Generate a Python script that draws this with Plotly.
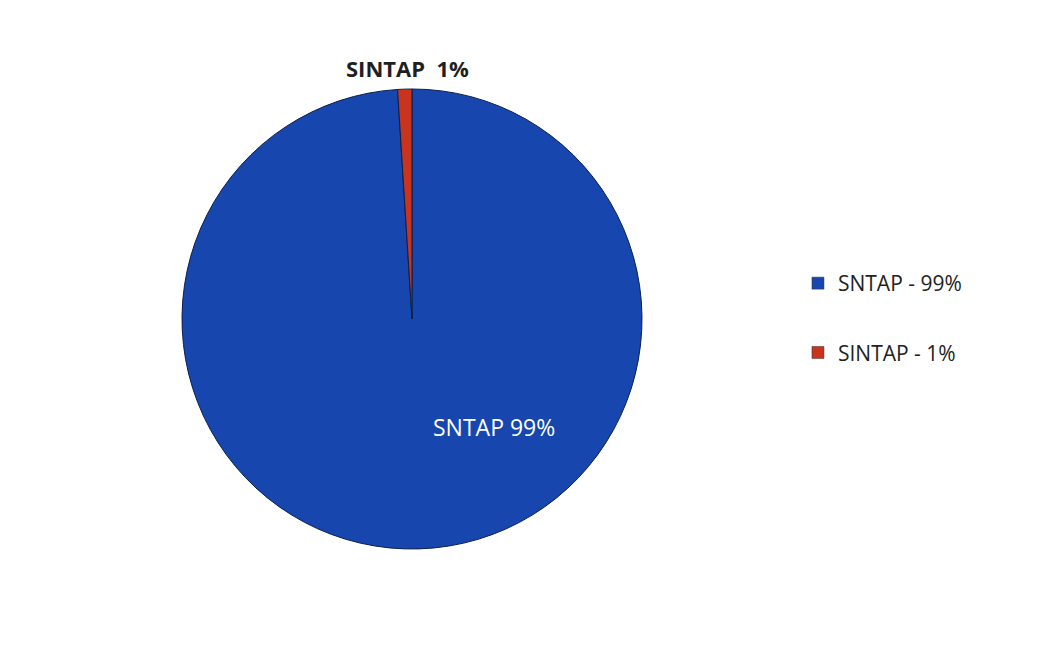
import plotly.graph_objects as go

# data
labels = ["SNTAP", "SINTAP"]
values = [99, 1]
legend_names = ["SNTAP - 99%", "SINTAP - 1%"]
slice_colors = ["#1646AE", "#C8341E"]

W, H = 1043, 659

fig = go.Figure()

# the pie itself, legend drawn with dummy traces so the gap can match
fig.add_trace(go.Pie(
    labels=labels,
    values=values,
    sort=False,
    direction="clockwise",
    rotation=0,
    marker=dict(colors=slice_colors, line=dict(color="#0b1f4a", width=1)),
    textinfo="none",
    showlegend=False,
    hoverinfo="label+percent",
    domain=dict(x=[174 / W, 634 / W], y=[1 - 542 / H, 1 - 80 / H]),
))

for name, col in zip(legend_names, slice_colors):
    fig.add_trace(go.Scatter(
        x=[None], y=[None],
        mode="markers",
        marker=dict(symbol="square", size=12, color=col,
                    line=dict(color="#333333", width=0.5)),
        name=name,
        legendgroup=name,
        showlegend=True,
    ))

# data labels
fig.add_annotation(
    x=486 / W, y=1 - 419 / H, xref="paper", yref="paper",
    xanchor="center", yanchor="middle",
    text=f"{labels[0]} {values[0]}%", showarrow=False,
    font=dict(family="Open Sans", size=23, color="white"),
)
fig.add_annotation(
    x=399 / W, y=1 - 60 / H, xref="paper", yref="paper",
    xanchor="center", yanchor="middle",
    text=f"<b>{labels[1]}&nbsp; {values[1]}%</b>", showarrow=False,
    font=dict(family="Open Sans", size=22, color="#1f1f1f"),
)

fig.update_layout(
    width=W,
    height=H,
    margin=dict(l=0, r=0, t=0, b=0),
    paper_bgcolor="white",
    plot_bgcolor="white",
    xaxis=dict(visible=False),
    yaxis=dict(visible=False),
    legend=dict(
        x=0.7574, y=1 - 255 / H, xanchor="left", yanchor="top",
        tracegroupgap=39,
        font=dict(family="Open Sans", size=21, color="#222222"),
        bgcolor="rgba(0,0,0,0)",
    ),
)

fig.write_html("out.html")
